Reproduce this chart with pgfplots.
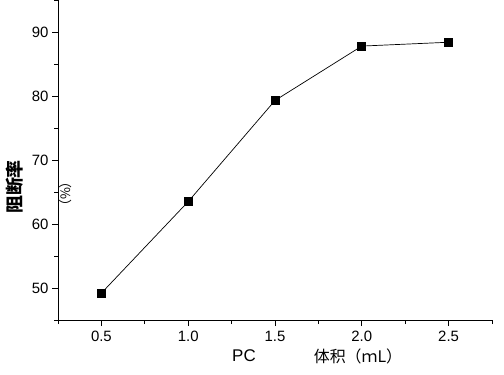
\documentclass[border=0pt]{standalone}
\usepackage{fontspec}
\setmainfont{Liberation Sans}
\newfontfamily\cjk{Noto Sans CJK SC}
\usepackage{pgfplots}
\pgfplotsset{compat=1.18}
\begin{document}
\begin{tikzpicture}[x=1bp,y=1bp]
\path[use as bounding box] (0,0) rectangle (504,374);
\begin{axis}[
  at={(58bp,54bp)}, anchor=south west,
  scale only axis, width=434bp, height=320bp,
  xmin=0.25, xmax=2.75, ymin=45, ymax=95,
  axis x line*=bottom, axis y line*=left,
  xtick={0.5,1.0,1.5,2.0,2.5},
  minor xtick={0.25,0.75,1.25,1.75,2.25,2.75},
  ytick={50,60,70,80,90},
  minor ytick={45,55,65,75,85,95},
  tick align=outside, major tick length=6bp, minor tick length=4bp,
  tick style={black, line width=0.8bp},
  axis line style={black, line width=1bp},
  x tick label style={yshift=-2bp, /pgf/number format/.cd, fixed, fixed zerofill, precision=1},
  /pgf/number format/assume math mode=true,
  tick label style={font=\fontsize{15}{17}\selectfont},
  clip=false,
]
\addplot[black, line width=0.7bp, mark=square*, mark size=4bp, mark options={solid, fill=black}]
  coordinates {(0.5,49.2) (1.0,63.5) (1.5,79.3) (2.0,87.8) (2.5,88.4)};
\end{axis}
\node[rotate=90, font=\cjk\bfseries\fontsize{18}{20}\selectfont] at (15,187) {阻断率};
\node[rotate=90, font=\cjk\fontsize{13}{14}\selectfont] at (66,180) {（\%）};
\node[font=\fontsize{17}{19}\selectfont] at (244,18) {PC};
\node[font=\cjk\fontsize{16}{18}\selectfont] at (358,18) {体积（ｍL）};
\end{tikzpicture}
\end{document}
